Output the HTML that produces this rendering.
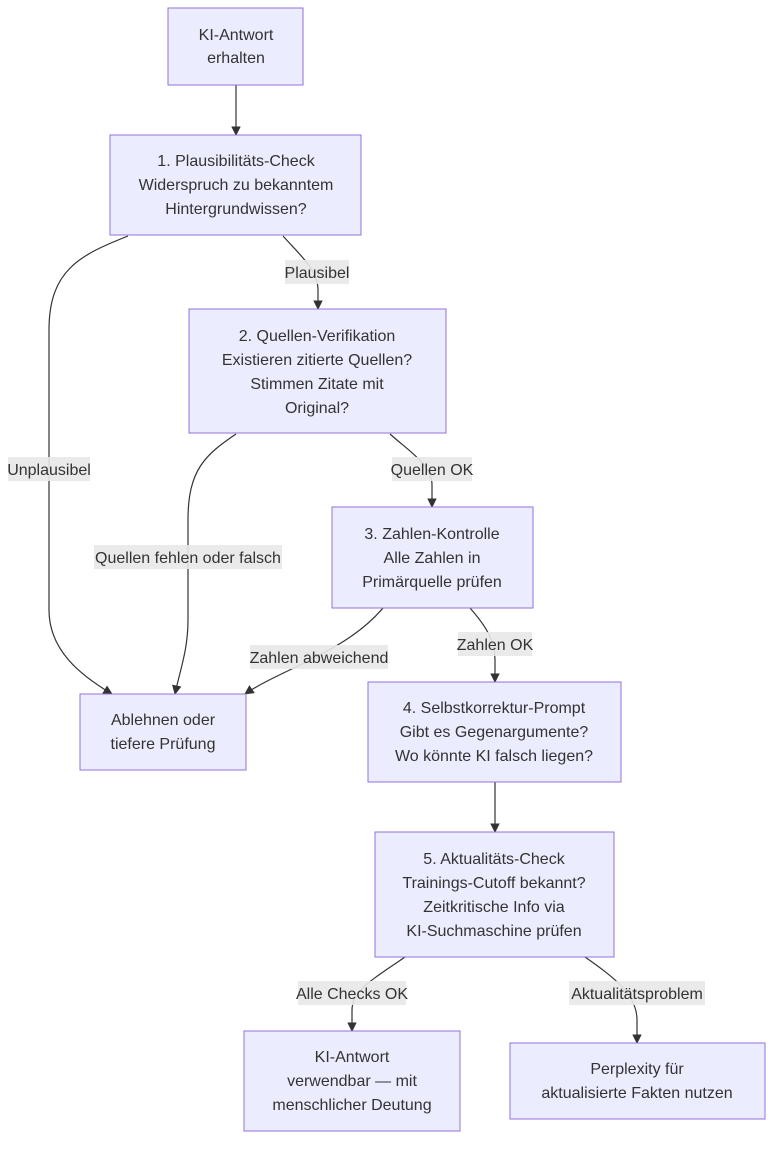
<!DOCTYPE html>
<html><head><meta charset="utf-8"><style>
body{margin:0;background:#fff}
svg text{font-family:"Liberation Sans","DejaVu Sans",sans-serif;font-size:16px;fill:#333}
.n{fill:#ECECFF;stroke:#9370DB;stroke-width:1}
.e{fill:none;stroke:#333;stroke-width:1.2}
.lb{fill:#e8e8e8;opacity:0.9}
</style></head><body>
<svg width="781" height="1150" viewBox="0 0 781 1150" xmlns="http://www.w3.org/2000/svg">
<defs><marker id="a" viewBox="0 0 10 10" refX="9" refY="5" markerWidth="8" markerHeight="8" orient="auto"><path d="M0,0L10,5L0,10z" fill="#333"/></marker></defs>
<g transform="translate(0,1)">
<path class="e" marker-end="url(#a)" d="M236,84 L236,134"/>
<path class="e" marker-end="url(#a)" d="M283,235 C300,254 318,269 318,289 L318,308"/>
<path class="e" marker-end="url(#a)" d="M128,235 C80,254 49,269 49,329 L49,609 C49,649 80,674 112,693"/>
<path class="e" marker-end="url(#a)" d="M390,433 C410,451 432,464 432,484 L432,506"/>
<path class="e" marker-end="url(#a)" d="M236,433 C205,454 188,469 188,519 L188,619 C188,649 180,669 175,693"/>
<path class="e" marker-end="url(#a)" d="M470,607 C485,624 495,639 495,659 L495,681"/>
<path class="e" marker-end="url(#a)" d="M383,607 C360,634 330,649 300,664 C275,676 258,684 245,693"/>
<path class="e" marker-end="url(#a)" d="M495,781 L495,831"/>
<path class="e" marker-end="url(#a)" d="M405,956 C375,977 352,989 352,1009 L352,1030"/>
<path class="e" marker-end="url(#a)" d="M585,956 C615,977 637,994 637,1019 L637,1042"/>
</g>
<rect class="lb" x="285" y="260" width="64" height="24"/><text x="317" y="278" text-anchor="middle">Plausibel</text>
<rect class="lb" x="8" y="457" width="82" height="24"/><text x="49" y="475" text-anchor="middle">Unplausibel</text>
<rect class="lb" x="392" y="457" width="80" height="24"/><text x="432" y="475" text-anchor="middle">Quellen OK</text>
<rect class="lb" x="94" y="545" width="188" height="24"/><text x="188" y="563" text-anchor="middle">Quellen fehlen oder falsch</text>
<rect class="lb" x="458" y="632" width="74" height="24"/><text x="495" y="650" text-anchor="middle">Zahlen OK</text>
<rect class="lb" x="250" y="645" width="138" height="24"/><text x="319" y="663" text-anchor="middle">Zahlen abweichend</text>
<rect class="lb" x="298" y="981" width="108" height="24"/><text x="352" y="999" text-anchor="middle">Alle Checks OK</text>
<rect class="lb" x="569" y="981" width="136" height="24"/><text x="637" y="999" text-anchor="middle">Aktualitätsproblem</text>
<rect class="n" x="168" y="8" width="135" height="77"/>
<text x="236" y="40" text-anchor="middle">KI-Antwort</text><text x="236" y="63" text-anchor="middle">erhalten</text>
<rect class="n" x="110" y="135" width="251" height="100"/>
<text x="236" y="166" text-anchor="middle">1. Plausibilitäts-Check</text><text x="236" y="190" text-anchor="middle">Widerspruch zu bekanntem</text><text x="236" y="214" text-anchor="middle">Hintergrundwissen?</text>
<rect class="n" x="189" y="309" width="257" height="124"/>
<text x="317" y="341" text-anchor="middle">2. Quellen-Verifikation</text><text x="317" y="365" text-anchor="middle">Existieren zitierte Quellen?</text><text x="317" y="389" text-anchor="middle">Stimmen Zitate mit</text><text x="317" y="413" text-anchor="middle">Original?</text>
<rect class="n" x="332" y="507" width="201" height="101"/>
<text x="432" y="539" text-anchor="middle">3. Zahlen-Kontrolle</text><text x="432" y="563" text-anchor="middle">Alle Zahlen in</text><text x="432" y="587" text-anchor="middle">Primärquelle prüfen</text>
<rect class="n" x="80" y="694" width="166" height="76"/>
<text x="163" y="725" text-anchor="middle">Ablehnen oder</text><text x="163" y="749" text-anchor="middle">tiefere Prüfung</text>
<rect class="n" x="368" y="682" width="253" height="100"/>
<text x="494" y="713" text-anchor="middle">4. Selbstkorrektur-Prompt</text><text x="494" y="737" text-anchor="middle">Gibt es Gegenargumente?</text><text x="494" y="761" text-anchor="middle">Wo könnte KI falsch liegen?</text>
<rect class="n" x="375" y="832" width="239" height="125"/>
<text x="494" y="864" text-anchor="middle">5. Aktualitäts-Check</text><text x="494" y="888" text-anchor="middle">Trainings-Cutoff bekannt?</text><text x="494" y="912" text-anchor="middle">Zeitkritische Info via</text><text x="494" y="936" text-anchor="middle">KI-Suchmaschine prüfen</text>
<rect class="n" x="244" y="1031" width="216" height="100"/>
<text x="352" y="1062" text-anchor="middle">KI-Antwort</text><text x="352" y="1086" text-anchor="middle">verwendbar — mit</text><text x="352" y="1110" text-anchor="middle">menschlicher Deutung</text>
<rect class="n" x="510" y="1043" width="255" height="76"/>
<text x="637" y="1074" text-anchor="middle">Perplexity für</text><text x="637" y="1098" text-anchor="middle">aktualisierte Fakten nutzen</text>
</svg>
</body></html>
